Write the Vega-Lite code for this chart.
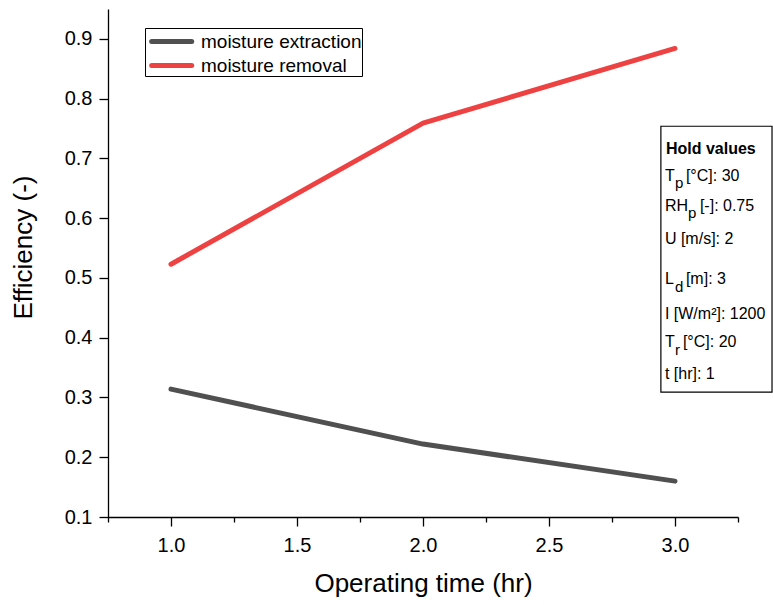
{
  "$schema": "https://vega.github.io/schema/vega-lite/v6.json",
  "width": 630,
  "height": 508,
  "autosize": {"type": "none"},
  "padding": {"left": 108, "top": 9, "right": 35, "bottom": 88},
  "background": "white",
  "config": {
    "view": {"stroke": null},
    "font": "Liberation Sans",
    "axis": {
      "grid": false,
      "domainColor": "black",
      "tickColor": "black",
      "labelColor": "black",
      "titleColor": "black",
      "domainWidth": 1.3,
      "tickWidth": 1.3,
      "labelFont": "Liberation Sans",
      "titleFont": "Liberation Sans",
      "titleFontWeight": "normal"
    },
    "text": {"font": "Liberation Sans", "color": "black"}
  },
  "layer": [
    {
      "data": {
        "values": [
          {"time": 1, "eff": 0.314, "series": "moisture extraction"},
          {"time": 2, "eff": 0.222, "series": "moisture extraction"},
          {"time": 3, "eff": 0.160, "series": "moisture extraction"},
          {"time": 1, "eff": 0.523, "series": "moisture removal"},
          {"time": 2, "eff": 0.759, "series": "moisture removal"},
          {"time": 3, "eff": 0.884, "series": "moisture removal"}
        ]
      },
      "mark": {"type": "line", "strokeWidth": 5, "strokeCap": "round", "strokeJoin": "round"},
      "encoding": {
        "x": {
          "field": "time",
          "type": "quantitative",
          "scale": {"domain": [0.75, 3.25], "nice": false, "zero": false},
          "axis": {
            "title": "Operating time (hr)",
            "values": [0.75, 1, 1.25, 1.5, 1.75, 2, 2.25, 2.5, 2.75, 3, 3.25],
            "labelExpr": "abs(datum.value*2 - round(datum.value*2)) < 0.01 ? format(datum.value, '.1f') : ''",
            "tickSize": {"condition": {"test": "abs(datum.value*2 - round(datum.value*2)) < 0.01", "value": 9}, "value": 5},
            "labelFontSize": 20,
            "labelPadding": 9,
            "labelFlush": false,
            "labelOverlap": false,
            "titleFontSize": 26,
            "titleY": 74,
            "titleBaseline": "alphabetic"
          }
        },
        "y": {
          "field": "eff",
          "type": "quantitative",
          "scale": {"domain": [0.1, 0.95], "nice": false, "zero": false},
          "axis": {
            "title": "Efficiency (-)",
            "values": [0.1, 0.15, 0.2, 0.25, 0.3, 0.35, 0.4, 0.45, 0.5, 0.55, 0.6, 0.65, 0.7, 0.75, 0.8, 0.85, 0.9],
            "labelExpr": "abs(datum.value*10 - round(datum.value*10)) < 0.01 ? format(datum.value, '.1f') : ''",
            "tickSize": {"condition": {"test": "abs(datum.value*10 - round(datum.value*10)) < 0.01", "value": 9}, "value": 5},
            "labelFontSize": 20,
            "labelPadding": 7,
            "labelFlush": false,
            "labelOverlap": false,
            "titleFontSize": 26,
            "titleAngle": -90,
            "titleX": -77,
            "titleY": 238,
            "titleAlign": "center",
            "titleBaseline": "alphabetic"
          }
        },
        "color": {
          "field": "series",
          "type": "nominal",
          "scale": {"domain": ["moisture extraction", "moisture removal"], "range": ["#505050", "#EE4242"]},
          "legend": {
            "title": null,
            "orient": "none",
            "legendX": 37,
            "legendY": 19,
            "strokeColor": "black",
            "fillColor": "white",
            "padding": 0,
            "rowPadding": -3.2,
            "symbolType": "M-0.62,0H3.02",
            "symbolSize": 484,
            "symbolStrokeWidth": 5,
            "labelFontSize": 19,
            "labelOffset": 29,
            "labelLimit": 0,
            "labelFont": "Liberation Sans",
            "labelColor": "black",
            "encode": {"symbols": {"update": {"strokeCap": {"value": "round"}}}}
          }
        }
      }
    },
    {
      "data": {"values": [{"box": "Hold values"}]},
      "mark": {"type": "rect", "fill": "white", "stroke": "black", "strokeWidth": 1.2},
      "encoding": {
        "x": {"datum": 2.944, "type": "quantitative"},
        "x2": {"datum": 3.385},
        "y": {"datum": 0.7538, "type": "quantitative"},
        "y2": {"datum": 0.309}
      }
    },
    {
      "data": {"values": [{"label": "Hold values", "level": 0.7082}]},
      "mark": {"type": "text", "align": "left", "baseline": "alphabetic", "fontSize": 16, "fontWeight": "bold"},
      "encoding": {
        "x": {"datum": 2.964, "type": "quantitative"},
        "y": {"field": "level", "type": "quantitative"},
        "text": {"field": "label"}
      }
    },
    {
      "data": {
        "values": [
          {"label": "T", "level": 0.6624},
          {"label": "RH", "level": 0.6122},
          {"label": "U [m/s]: 2", "level": 0.5565},
          {"label": "L", "level": 0.4896},
          {"label": "I [W/m²]: 1200", "level": 0.4306},
          {"label": "T", "level": 0.3838},
          {"label": "t [hr]: 1", "level": 0.3313}
        ]
      },
      "mark": {"type": "text", "align": "left", "baseline": "alphabetic", "fontSize": 16},
      "encoding": {
        "x": {"datum": 2.96, "type": "quantitative"},
        "y": {"field": "level", "type": "quantitative"},
        "text": {"field": "label"}
      }
    },
    {
      "data": {
        "values": [
          {"label": "p", "level": 0.6624},
          {"label": "d", "level": 0.4896},
          {"label": "r", "level": 0.3838}
        ]
      },
      "mark": {"type": "text", "align": "left", "baseline": "alphabetic", "fontSize": 15, "dx": 10, "dy": 7.5},
      "encoding": {
        "x": {"datum": 2.96, "type": "quantitative"},
        "y": {"field": "level", "type": "quantitative"},
        "text": {"field": "label"}
      }
    },
    {
      "data": {
        "values": [
          {"label": "[°C]: 30", "level": 0.6624},
          {"label": "[m]: 3", "level": 0.4896}
        ]
      },
      "mark": {"type": "text", "align": "left", "baseline": "alphabetic", "fontSize": 16, "dx": 21},
      "encoding": {
        "x": {"datum": 2.96, "type": "quantitative"},
        "y": {"field": "level", "type": "quantitative"},
        "text": {"field": "label"}
      }
    },
    {
      "data": {"values": [{"label": "[°C]: 20", "level": 0.3838}]},
      "mark": {"type": "text", "align": "left", "baseline": "alphabetic", "fontSize": 16, "dx": 18},
      "encoding": {
        "x": {"datum": 2.96, "type": "quantitative"},
        "y": {"field": "level", "type": "quantitative"},
        "text": {"field": "label"}
      }
    },
    {
      "data": {"values": [{"label": "p", "level": 0.6122}]},
      "mark": {"type": "text", "align": "left", "baseline": "alphabetic", "fontSize": 15, "dx": 23, "dy": 7.5},
      "encoding": {
        "x": {"datum": 2.96, "type": "quantitative"},
        "y": {"field": "level", "type": "quantitative"},
        "text": {"field": "label"}
      }
    },
    {
      "data": {"values": [{"label": "[-]: 0.75", "level": 0.6122}]},
      "mark": {"type": "text", "align": "left", "baseline": "alphabetic", "fontSize": 16, "dx": 35},
      "encoding": {
        "x": {"datum": 2.96, "type": "quantitative"},
        "y": {"field": "level", "type": "quantitative"},
        "text": {"field": "label"}
      }
    }
  ]
}
